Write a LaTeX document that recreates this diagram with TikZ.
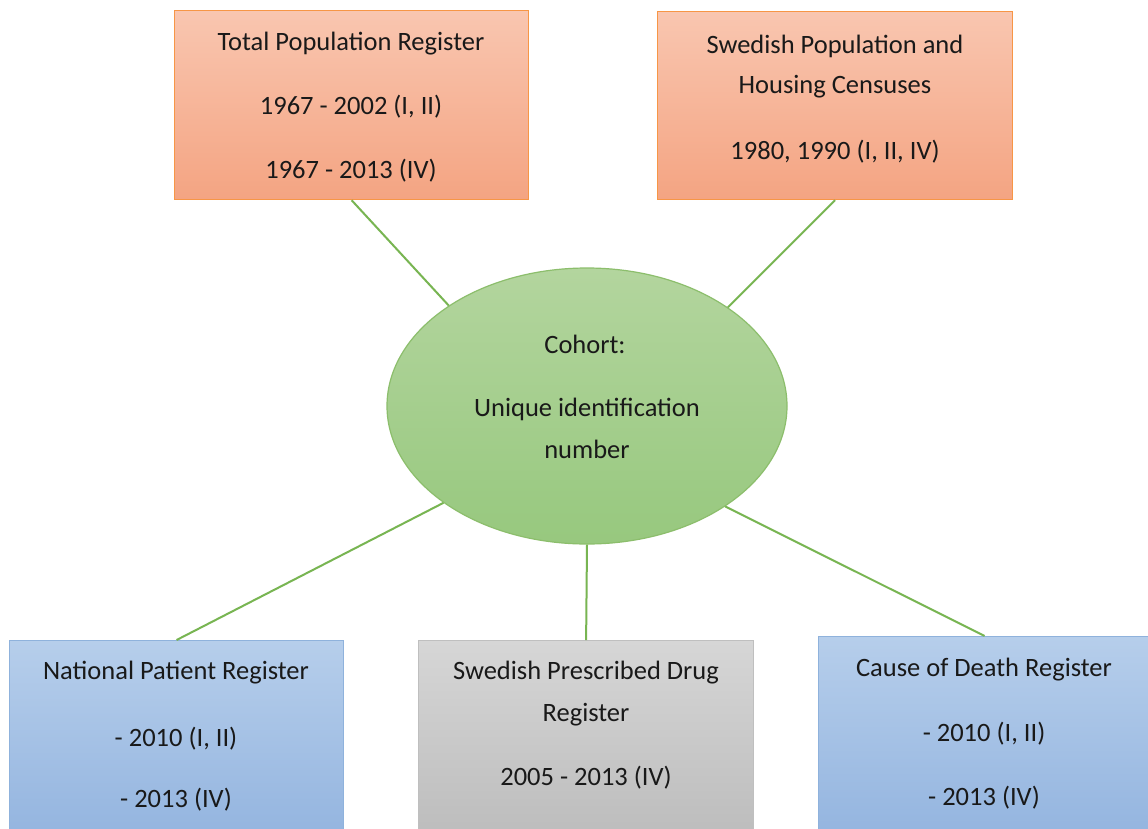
\documentclass[tikz,border=0pt]{standalone}
\usepackage{fontspec}
\setmainfont{Carlito}
\usetikzlibrary{shapes.geometric}
\definecolor{orfillT}{HTML}{F9C6B0}
\definecolor{orfillB}{HTML}{F4A482}
\definecolor{orline}{HTML}{F79646}
\definecolor{blfillT}{HTML}{B6CEEB}
\definecolor{blfillB}{HTML}{93B4DF}
\definecolor{blline}{HTML}{8FB2DC}
\definecolor{gyfillT}{HTML}{D6D6D6}
\definecolor{gyfillB}{HTML}{BCBCBC}
\definecolor{gyline}{HTML}{BFBFBF}
\definecolor{gnfillT}{HTML}{B3D59E}
\definecolor{gnfillB}{HTML}{97C87E}
\definecolor{gnline}{HTML}{8CBE6C}
\definecolor{conn}{HTML}{78B552}
\begin{document}
\begin{tikzpicture}[x=1pt,y=-1pt,
  regbox/.style={draw, line width=1.2pt, inner sep=0pt, anchor=north west},
  orbox/.style={regbox, draw=orline, top color=orfillT, bottom color=orfillB},
  blbox/.style={regbox, draw=blline, top color=blfillT, bottom color=blfillB},
  gybox/.style={regbox, draw=gyline, top color=gyfillT, bottom color=gyfillB},
  lbl/.style={font=\fontsize{26.5}{30}\selectfont, text=black!90, inner sep=0pt},
  link/.style={draw=conn, line width=2pt}]
\useasboundingbox (0,0) rectangle (1148,828);
\fill[white] (0,0) rectangle (1148,828);
% boxes
\node[orbox, minimum width=354pt, minimum height=189pt] (tpr) at (174,10) {};
\node[orbox, minimum width=355pt, minimum height=188pt] (sph) at (657,11) {};
\node[blbox, minimum width=334pt, minimum height=200pt] (npr) at (9,640) {};
\node[gybox, minimum width=335pt, minimum height=200pt] (spd) at (418,640) {};
\node[blbox, minimum width=332pt, minimum height=204pt] (cdr) at (818,636) {};
% ellipse
\node[draw=gnline, line width=1.2pt, top color=gnfillT, bottom color=gnfillB,
  ellipse, minimum width=400pt, minimum height=276pt, inner sep=0pt] (coh) at (587,406) {};
% connectors
\draw[link] (tpr.south) -- (coh.144.8);
\draw[link] (sph.south) -- (coh.35.3);
\draw[link] (coh.214.9) -- (npr.north);
\draw[link] (coh.270) -- (spd.north);
\draw[link] (coh.324.9) -- (cdr.north);
% texts
\node[lbl] (t1) at (351,44) {Total Population Register};
\node[lbl] (t2) at (351,107) {1967 - 2002 (I, II)};
\node[lbl] (t3) at (351,171) {1967 - 2013 (IV)};
\node[lbl] (s1) at (835,46) {Swedish Population and};
\node[lbl] (s2) at (835,87) {Housing Censuses};
\node[lbl] (s3) at (835,152) {1980, 1990 (I, II, IV)};
\node[lbl] (c1) at (585,344) {Cohort:};
\node[lbl] (c2) at (587,409) {Unique identification};
\node[lbl] (c3) at (587,449) {number};
\node[lbl] (n1) at (176,673) {National Patient Register};
\node[lbl] (n2) at (176,739) {- 2010 (I, II)};
\node[lbl] (n3) at (176,800) {- 2013 (IV)};
\node[lbl] (d1) at (586,673) {Swedish Prescribed Drug};
\node[lbl] (d2) at (586,715) {Register};
\node[lbl] (d3) at (586,778) {2005 - 2013 (IV)};
\node[lbl] (e1) at (984,670) {Cause of Death Register};
\node[lbl] (e2) at (984,734) {- 2010 (I, II)};
\node[lbl] (e3) at (984,798) {- 2013 (IV)};
\end{tikzpicture}
\end{document}
